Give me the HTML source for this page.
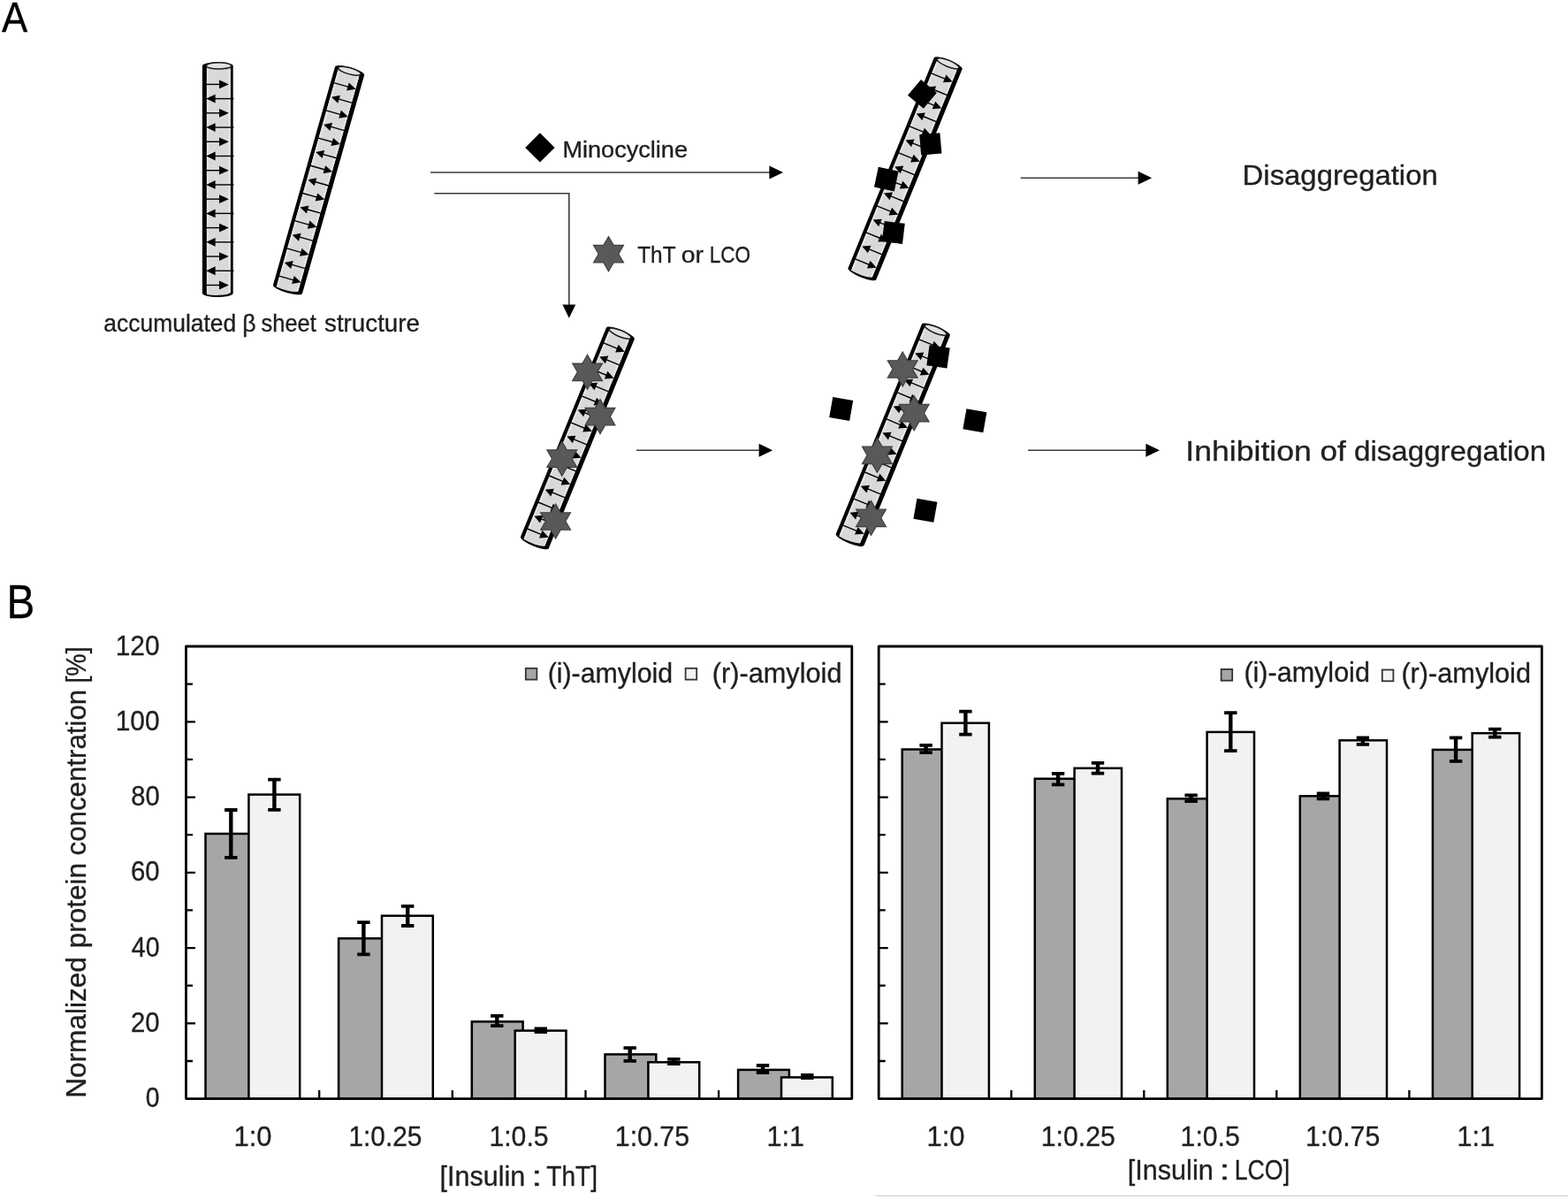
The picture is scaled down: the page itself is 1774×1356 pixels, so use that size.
<!DOCTYPE html>
<html lang="en">
<head>
<meta charset="utf-8">
<title>Figure</title>
<style>
html,body{margin:0;padding:0;background:#fff;}
body{width:1774px;height:1356px;overflow:hidden;}
svg{display:block;}
text{font-family:"Liberation Sans", sans-serif;}
</style>
</head>
<body>
<svg width="1774" height="1356" viewBox="0 0 1774 1356" font-family='"Liberation Sans", sans-serif'>
<rect width="1774" height="1356" fill="#fff"/>
<text x="1.9" y="35.6" font-size="47.2" text-anchor="start" fill="#000" stroke="#000" stroke-width="0.35" textLength="29.2" lengthAdjust="spacingAndGlyphs">A</text>
<text x="7.6" y="699.0" font-size="53.3" text-anchor="start" fill="#000" stroke="#000" stroke-width="0.35" textLength="31.8" lengthAdjust="spacingAndGlyphs">B</text>
<g transform="translate(246.3 74.4) rotate(0.00)">
<path d="M-17.4 0 A17.4 4.2 0 0 1 17.4 0 L17.4 257.4 A17.4 4.2 0 0 1 -17.4 257.4 Z" fill="#000"/>
<path d="M-12.399999999999999 0 L14.399999999999999 0 L14.399999999999999 256.9 A17.4 4.2 0 0 1 -12.399999999999999 258.59999999999997 Z" fill="#d9d9d9"/>
<rect x="-12.399999999999999" y="4" width="2" height="252.39999999999998" fill="#e6e6e6"/>
<rect x="12.399999999999999" y="4" width="2" height="252.39999999999998" fill="#e6e6e6"/>
<ellipse cx="1.3" cy="0" rx="14.2" ry="3.6" fill="#e2e2e2" stroke="#1a1a1a" stroke-width="1.5"/>
<path d="M-12.899999999999999 21.00 L2.6999999999999993 21.00" stroke="#000" stroke-width="1.4" fill="none"/>
<path d="M12.6 21.00 L1.6999999999999993 16.10 L1.6999999999999993 25.90 Z" fill="#000"/>
<path d="M-3.6999999999999997 37.22 L18.2 37.22" stroke="#000" stroke-width="1.4" fill="none"/>
<path d="M-13.0 37.22 L-2.6999999999999997 32.32 L-2.6999999999999997 42.12 Z" fill="#000"/>
<path d="M-12.899999999999999 53.44 L2.6999999999999993 53.44" stroke="#000" stroke-width="1.4" fill="none"/>
<path d="M12.6 53.44 L1.6999999999999993 48.54 L1.6999999999999993 58.34 Z" fill="#000"/>
<path d="M-3.6999999999999997 69.66 L18.2 69.66" stroke="#000" stroke-width="1.4" fill="none"/>
<path d="M-13.0 69.66 L-2.6999999999999997 64.76 L-2.6999999999999997 74.56 Z" fill="#000"/>
<path d="M-12.899999999999999 85.88 L2.6999999999999993 85.88" stroke="#000" stroke-width="1.4" fill="none"/>
<path d="M12.6 85.88 L1.6999999999999993 80.98 L1.6999999999999993 90.78 Z" fill="#000"/>
<path d="M-3.6999999999999997 102.10 L18.2 102.10" stroke="#000" stroke-width="1.4" fill="none"/>
<path d="M-13.0 102.10 L-2.6999999999999997 97.20 L-2.6999999999999997 107.00 Z" fill="#000"/>
<path d="M-12.899999999999999 118.32 L2.6999999999999993 118.32" stroke="#000" stroke-width="1.4" fill="none"/>
<path d="M12.6 118.32 L1.6999999999999993 113.42 L1.6999999999999993 123.22 Z" fill="#000"/>
<path d="M-3.6999999999999997 134.54 L18.2 134.54" stroke="#000" stroke-width="1.4" fill="none"/>
<path d="M-13.0 134.54 L-2.6999999999999997 129.64 L-2.6999999999999997 139.44 Z" fill="#000"/>
<path d="M-12.899999999999999 150.76 L2.6999999999999993 150.76" stroke="#000" stroke-width="1.4" fill="none"/>
<path d="M12.6 150.76 L1.6999999999999993 145.86 L1.6999999999999993 155.66 Z" fill="#000"/>
<path d="M-3.6999999999999997 166.98 L18.2 166.98" stroke="#000" stroke-width="1.4" fill="none"/>
<path d="M-13.0 166.98 L-2.6999999999999997 162.08 L-2.6999999999999997 171.88 Z" fill="#000"/>
<path d="M-12.899999999999999 183.20 L2.6999999999999993 183.20" stroke="#000" stroke-width="1.4" fill="none"/>
<path d="M12.6 183.20 L1.6999999999999993 178.30 L1.6999999999999993 188.10 Z" fill="#000"/>
<path d="M-3.6999999999999997 199.42 L18.2 199.42" stroke="#000" stroke-width="1.4" fill="none"/>
<path d="M-13.0 199.42 L-2.6999999999999997 194.52 L-2.6999999999999997 204.32 Z" fill="#000"/>
<path d="M-12.899999999999999 215.64 L2.6999999999999993 215.64" stroke="#000" stroke-width="1.4" fill="none"/>
<path d="M12.6 215.64 L1.6999999999999993 210.74 L1.6999999999999993 220.54 Z" fill="#000"/>
<path d="M-3.6999999999999997 231.86 L18.2 231.86" stroke="#000" stroke-width="1.4" fill="none"/>
<path d="M-13.0 231.86 L-2.6999999999999997 226.96 L-2.6999999999999997 236.76 Z" fill="#000"/>
<path d="M-12.899999999999999 248.08 L2.6999999999999993 248.08" stroke="#000" stroke-width="1.4" fill="none"/>
<path d="M12.6 248.08 L1.6999999999999993 243.18 L1.6999999999999993 252.98 Z" fill="#000"/>
</g>
<g transform="translate(395.6 80.2) rotate(15.85)">
<path d="M-17.2 0 A17.2 4.2 0 0 1 17.2 0 L17.2 256.5 A17.2 4.2 0 0 1 -17.2 256.5 Z" fill="#000"/>
<path d="M-13.0 0 L12.0 0 L12.0 256.0 A17.2 4.2 0 0 1 -13.0 257.7 Z" fill="#d9d9d9"/>
<rect x="-13.0" y="4" width="2" height="251.5" fill="#e6e6e6"/>
<rect x="10.0" y="4" width="2" height="251.5" fill="#e6e6e6"/>
<ellipse cx="-0.2" cy="0" rx="13.3" ry="3.6" fill="#e2e2e2" stroke="#1a1a1a" stroke-width="1.5"/>
<path d="M-13.5 17.80 L3.799999999999999 17.80" stroke="#000" stroke-width="1.4" fill="none"/>
<path d="M12.399999999999999 17.80 L2.799999999999999 13.10 L2.799999999999999 22.50 Z" fill="#000"/>
<path d="M-3.800000000000001 34.02 L17.2 34.02" stroke="#000" stroke-width="1.4" fill="none"/>
<path d="M-11.8 34.02 L-2.800000000000001 29.32 L-2.800000000000001 38.72 Z" fill="#000"/>
<path d="M-13.5 50.24 L3.799999999999999 50.24" stroke="#000" stroke-width="1.4" fill="none"/>
<path d="M12.399999999999999 50.24 L2.799999999999999 45.54 L2.799999999999999 54.94 Z" fill="#000"/>
<path d="M-3.800000000000001 66.46 L17.2 66.46" stroke="#000" stroke-width="1.4" fill="none"/>
<path d="M-11.8 66.46 L-2.800000000000001 61.76 L-2.800000000000001 71.16 Z" fill="#000"/>
<path d="M-13.5 82.68 L3.799999999999999 82.68" stroke="#000" stroke-width="1.4" fill="none"/>
<path d="M12.399999999999999 82.68 L2.799999999999999 77.98 L2.799999999999999 87.38 Z" fill="#000"/>
<path d="M-3.800000000000001 98.90 L17.2 98.90" stroke="#000" stroke-width="1.4" fill="none"/>
<path d="M-11.8 98.90 L-2.800000000000001 94.20 L-2.800000000000001 103.60 Z" fill="#000"/>
<path d="M-13.5 115.12 L3.799999999999999 115.12" stroke="#000" stroke-width="1.4" fill="none"/>
<path d="M12.399999999999999 115.12 L2.799999999999999 110.42 L2.799999999999999 119.82 Z" fill="#000"/>
<path d="M-3.800000000000001 131.34 L17.2 131.34" stroke="#000" stroke-width="1.4" fill="none"/>
<path d="M-11.8 131.34 L-2.800000000000001 126.64 L-2.800000000000001 136.04 Z" fill="#000"/>
<path d="M-13.5 147.56 L3.799999999999999 147.56" stroke="#000" stroke-width="1.4" fill="none"/>
<path d="M12.399999999999999 147.56 L2.799999999999999 142.86 L2.799999999999999 152.26 Z" fill="#000"/>
<path d="M-3.800000000000001 163.78 L17.2 163.78" stroke="#000" stroke-width="1.4" fill="none"/>
<path d="M-11.8 163.78 L-2.800000000000001 159.08 L-2.800000000000001 168.48 Z" fill="#000"/>
<path d="M-13.5 180.00 L3.799999999999999 180.00" stroke="#000" stroke-width="1.4" fill="none"/>
<path d="M12.399999999999999 180.00 L2.799999999999999 175.30 L2.799999999999999 184.70 Z" fill="#000"/>
<path d="M-3.800000000000001 196.22 L17.2 196.22" stroke="#000" stroke-width="1.4" fill="none"/>
<path d="M-11.8 196.22 L-2.800000000000001 191.52 L-2.800000000000001 200.92 Z" fill="#000"/>
<path d="M-13.5 212.44 L3.799999999999999 212.44" stroke="#000" stroke-width="1.4" fill="none"/>
<path d="M12.399999999999999 212.44 L2.799999999999999 207.74 L2.799999999999999 217.14 Z" fill="#000"/>
<path d="M-3.800000000000001 228.66 L17.2 228.66" stroke="#000" stroke-width="1.4" fill="none"/>
<path d="M-11.8 228.66 L-2.800000000000001 223.96 L-2.800000000000001 233.36 Z" fill="#000"/>
<path d="M-13.5 244.88 L3.799999999999999 244.88" stroke="#000" stroke-width="1.4" fill="none"/>
<path d="M12.399999999999999 244.88 L2.799999999999999 240.18 L2.799999999999999 249.58 Z" fill="#000"/>
</g>
<g transform="translate(1072.7 71.8) rotate(22.25)">
<path d="M-17.2 0 A17.2 4.2 0 0 1 17.2 0 L17.2 257 A17.2 4.2 0 0 1 -17.2 257 Z" fill="#000"/>
<path d="M-13.0 0 L12.0 0 L12.0 256.5 A17.2 4.2 0 0 1 -13.0 258.2 Z" fill="#d9d9d9"/>
<rect x="-13.0" y="4" width="2" height="252" fill="#e6e6e6"/>
<rect x="10.0" y="4" width="2" height="252" fill="#e6e6e6"/>
<ellipse cx="-0.2" cy="0" rx="13.3" ry="3.6" fill="#e2e2e2" stroke="#1a1a1a" stroke-width="1.5"/>
<path d="M-13.5 17.40 L3.799999999999999 17.40" stroke="#000" stroke-width="1.4" fill="none"/>
<path d="M12.399999999999999 17.40 L2.799999999999999 12.70 L2.799999999999999 22.10 Z" fill="#000"/>
<path d="M-3.800000000000001 33.62 L17.2 33.62" stroke="#000" stroke-width="1.4" fill="none"/>
<path d="M-11.8 33.62 L-2.800000000000001 28.92 L-2.800000000000001 38.32 Z" fill="#000"/>
<path d="M-13.5 49.84 L3.799999999999999 49.84" stroke="#000" stroke-width="1.4" fill="none"/>
<path d="M12.399999999999999 49.84 L2.799999999999999 45.14 L2.799999999999999 54.54 Z" fill="#000"/>
<path d="M-3.800000000000001 66.06 L17.2 66.06" stroke="#000" stroke-width="1.4" fill="none"/>
<path d="M-11.8 66.06 L-2.800000000000001 61.36 L-2.800000000000001 70.76 Z" fill="#000"/>
<path d="M-13.5 82.28 L3.799999999999999 82.28" stroke="#000" stroke-width="1.4" fill="none"/>
<path d="M12.399999999999999 82.28 L2.799999999999999 77.58 L2.799999999999999 86.98 Z" fill="#000"/>
<path d="M-3.800000000000001 98.50 L17.2 98.50" stroke="#000" stroke-width="1.4" fill="none"/>
<path d="M-11.8 98.50 L-2.800000000000001 93.80 L-2.800000000000001 103.20 Z" fill="#000"/>
<path d="M-13.5 114.72 L3.799999999999999 114.72" stroke="#000" stroke-width="1.4" fill="none"/>
<path d="M12.399999999999999 114.72 L2.799999999999999 110.02 L2.799999999999999 119.42 Z" fill="#000"/>
<path d="M-3.800000000000001 130.94 L17.2 130.94" stroke="#000" stroke-width="1.4" fill="none"/>
<path d="M-11.8 130.94 L-2.800000000000001 126.24 L-2.800000000000001 135.64 Z" fill="#000"/>
<path d="M-13.5 147.16 L3.799999999999999 147.16" stroke="#000" stroke-width="1.4" fill="none"/>
<path d="M12.399999999999999 147.16 L2.799999999999999 142.46 L2.799999999999999 151.86 Z" fill="#000"/>
<path d="M-3.800000000000001 163.38 L17.2 163.38" stroke="#000" stroke-width="1.4" fill="none"/>
<path d="M-11.8 163.38 L-2.800000000000001 158.68 L-2.800000000000001 168.08 Z" fill="#000"/>
<path d="M-13.5 179.60 L3.799999999999999 179.60" stroke="#000" stroke-width="1.4" fill="none"/>
<path d="M12.399999999999999 179.60 L2.799999999999999 174.90 L2.799999999999999 184.30 Z" fill="#000"/>
<path d="M-3.800000000000001 195.82 L17.2 195.82" stroke="#000" stroke-width="1.4" fill="none"/>
<path d="M-11.8 195.82 L-2.800000000000001 191.12 L-2.800000000000001 200.52 Z" fill="#000"/>
<path d="M-13.5 212.04 L3.799999999999999 212.04" stroke="#000" stroke-width="1.4" fill="none"/>
<path d="M12.399999999999999 212.04 L2.799999999999999 207.34 L2.799999999999999 216.74 Z" fill="#000"/>
<path d="M-3.800000000000001 228.26 L17.2 228.26" stroke="#000" stroke-width="1.4" fill="none"/>
<path d="M-11.8 228.26 L-2.800000000000001 223.56 L-2.800000000000001 232.96 Z" fill="#000"/>
<path d="M-13.5 244.48 L3.799999999999999 244.48" stroke="#000" stroke-width="1.4" fill="none"/>
<path d="M12.399999999999999 244.48 L2.799999999999999 239.78 L2.799999999999999 249.18 Z" fill="#000"/>
</g>
<g transform="translate(701.8 377.2) rotate(22.29)">
<path d="M-17.2 0 A17.2 4.2 0 0 1 17.2 0 L17.2 255.5 A17.2 4.2 0 0 1 -17.2 255.5 Z" fill="#000"/>
<path d="M-13.0 0 L12.0 0 L12.0 255.0 A17.2 4.2 0 0 1 -13.0 256.7 Z" fill="#d9d9d9"/>
<rect x="-13.0" y="4" width="2" height="250.5" fill="#e6e6e6"/>
<rect x="10.0" y="4" width="2" height="250.5" fill="#e6e6e6"/>
<ellipse cx="-0.2" cy="0" rx="13.3" ry="3.6" fill="#e2e2e2" stroke="#1a1a1a" stroke-width="1.5"/>
<path d="M-13.5 17.10 L3.799999999999999 17.10" stroke="#000" stroke-width="1.4" fill="none"/>
<path d="M12.399999999999999 17.10 L2.799999999999999 12.40 L2.799999999999999 21.80 Z" fill="#000"/>
<path d="M-3.800000000000001 33.32 L17.2 33.32" stroke="#000" stroke-width="1.4" fill="none"/>
<path d="M-11.8 33.32 L-2.800000000000001 28.62 L-2.800000000000001 38.02 Z" fill="#000"/>
<path d="M-13.5 49.54 L3.799999999999999 49.54" stroke="#000" stroke-width="1.4" fill="none"/>
<path d="M12.399999999999999 49.54 L2.799999999999999 44.84 L2.799999999999999 54.24 Z" fill="#000"/>
<path d="M-3.800000000000001 65.76 L17.2 65.76" stroke="#000" stroke-width="1.4" fill="none"/>
<path d="M-11.8 65.76 L-2.800000000000001 61.06 L-2.800000000000001 70.46 Z" fill="#000"/>
<path d="M-13.5 81.98 L3.799999999999999 81.98" stroke="#000" stroke-width="1.4" fill="none"/>
<path d="M12.399999999999999 81.98 L2.799999999999999 77.28 L2.799999999999999 86.68 Z" fill="#000"/>
<path d="M-3.800000000000001 98.20 L17.2 98.20" stroke="#000" stroke-width="1.4" fill="none"/>
<path d="M-11.8 98.20 L-2.800000000000001 93.50 L-2.800000000000001 102.90 Z" fill="#000"/>
<path d="M-13.5 114.42 L3.799999999999999 114.42" stroke="#000" stroke-width="1.4" fill="none"/>
<path d="M12.399999999999999 114.42 L2.799999999999999 109.72 L2.799999999999999 119.12 Z" fill="#000"/>
<path d="M-3.800000000000001 130.64 L17.2 130.64" stroke="#000" stroke-width="1.4" fill="none"/>
<path d="M-11.8 130.64 L-2.800000000000001 125.94 L-2.800000000000001 135.34 Z" fill="#000"/>
<path d="M-13.5 146.86 L3.799999999999999 146.86" stroke="#000" stroke-width="1.4" fill="none"/>
<path d="M12.399999999999999 146.86 L2.799999999999999 142.16 L2.799999999999999 151.56 Z" fill="#000"/>
<path d="M-3.800000000000001 163.08 L17.2 163.08" stroke="#000" stroke-width="1.4" fill="none"/>
<path d="M-11.8 163.08 L-2.800000000000001 158.38 L-2.800000000000001 167.78 Z" fill="#000"/>
<path d="M-13.5 179.30 L3.799999999999999 179.30" stroke="#000" stroke-width="1.4" fill="none"/>
<path d="M12.399999999999999 179.30 L2.799999999999999 174.60 L2.799999999999999 184.00 Z" fill="#000"/>
<path d="M-3.800000000000001 195.52 L17.2 195.52" stroke="#000" stroke-width="1.4" fill="none"/>
<path d="M-11.8 195.52 L-2.800000000000001 190.82 L-2.800000000000001 200.22 Z" fill="#000"/>
<path d="M-13.5 211.74 L3.799999999999999 211.74" stroke="#000" stroke-width="1.4" fill="none"/>
<path d="M12.399999999999999 211.74 L2.799999999999999 207.04 L2.799999999999999 216.44 Z" fill="#000"/>
<path d="M-3.800000000000001 227.96 L17.2 227.96" stroke="#000" stroke-width="1.4" fill="none"/>
<path d="M-11.8 227.96 L-2.800000000000001 223.26 L-2.800000000000001 232.66 Z" fill="#000"/>
<path d="M-13.5 244.18 L3.799999999999999 244.18" stroke="#000" stroke-width="1.4" fill="none"/>
<path d="M12.399999999999999 244.18 L2.799999999999999 239.48 L2.799999999999999 248.88 Z" fill="#000"/>
</g>
<g transform="translate(1058.8 373.2) rotate(22.27)">
<path d="M-17.2 0 A17.2 4.2 0 0 1 17.2 0 L17.2 256.2 A17.2 4.2 0 0 1 -17.2 256.2 Z" fill="#000"/>
<path d="M-13.0 0 L12.0 0 L12.0 255.7 A17.2 4.2 0 0 1 -13.0 257.4 Z" fill="#d9d9d9"/>
<rect x="-13.0" y="4" width="2" height="251.2" fill="#e6e6e6"/>
<rect x="10.0" y="4" width="2" height="251.2" fill="#e6e6e6"/>
<ellipse cx="-0.2" cy="0" rx="13.3" ry="3.6" fill="#e2e2e2" stroke="#1a1a1a" stroke-width="1.5"/>
<path d="M-13.5 17.10 L3.799999999999999 17.10" stroke="#000" stroke-width="1.4" fill="none"/>
<path d="M12.399999999999999 17.10 L2.799999999999999 12.40 L2.799999999999999 21.80 Z" fill="#000"/>
<path d="M-3.800000000000001 33.32 L17.2 33.32" stroke="#000" stroke-width="1.4" fill="none"/>
<path d="M-11.8 33.32 L-2.800000000000001 28.62 L-2.800000000000001 38.02 Z" fill="#000"/>
<path d="M-13.5 49.54 L3.799999999999999 49.54" stroke="#000" stroke-width="1.4" fill="none"/>
<path d="M12.399999999999999 49.54 L2.799999999999999 44.84 L2.799999999999999 54.24 Z" fill="#000"/>
<path d="M-3.800000000000001 65.76 L17.2 65.76" stroke="#000" stroke-width="1.4" fill="none"/>
<path d="M-11.8 65.76 L-2.800000000000001 61.06 L-2.800000000000001 70.46 Z" fill="#000"/>
<path d="M-13.5 81.98 L3.799999999999999 81.98" stroke="#000" stroke-width="1.4" fill="none"/>
<path d="M12.399999999999999 81.98 L2.799999999999999 77.28 L2.799999999999999 86.68 Z" fill="#000"/>
<path d="M-3.800000000000001 98.20 L17.2 98.20" stroke="#000" stroke-width="1.4" fill="none"/>
<path d="M-11.8 98.20 L-2.800000000000001 93.50 L-2.800000000000001 102.90 Z" fill="#000"/>
<path d="M-13.5 114.42 L3.799999999999999 114.42" stroke="#000" stroke-width="1.4" fill="none"/>
<path d="M12.399999999999999 114.42 L2.799999999999999 109.72 L2.799999999999999 119.12 Z" fill="#000"/>
<path d="M-3.800000000000001 130.64 L17.2 130.64" stroke="#000" stroke-width="1.4" fill="none"/>
<path d="M-11.8 130.64 L-2.800000000000001 125.94 L-2.800000000000001 135.34 Z" fill="#000"/>
<path d="M-13.5 146.86 L3.799999999999999 146.86" stroke="#000" stroke-width="1.4" fill="none"/>
<path d="M12.399999999999999 146.86 L2.799999999999999 142.16 L2.799999999999999 151.56 Z" fill="#000"/>
<path d="M-3.800000000000001 163.08 L17.2 163.08" stroke="#000" stroke-width="1.4" fill="none"/>
<path d="M-11.8 163.08 L-2.800000000000001 158.38 L-2.800000000000001 167.78 Z" fill="#000"/>
<path d="M-13.5 179.30 L3.799999999999999 179.30" stroke="#000" stroke-width="1.4" fill="none"/>
<path d="M12.399999999999999 179.30 L2.799999999999999 174.60 L2.799999999999999 184.00 Z" fill="#000"/>
<path d="M-3.800000000000001 195.52 L17.2 195.52" stroke="#000" stroke-width="1.4" fill="none"/>
<path d="M-11.8 195.52 L-2.800000000000001 190.82 L-2.800000000000001 200.22 Z" fill="#000"/>
<path d="M-13.5 211.74 L3.799999999999999 211.74" stroke="#000" stroke-width="1.4" fill="none"/>
<path d="M12.399999999999999 211.74 L2.799999999999999 207.04 L2.799999999999999 216.44 Z" fill="#000"/>
<path d="M-3.800000000000001 227.96 L17.2 227.96" stroke="#000" stroke-width="1.4" fill="none"/>
<path d="M-11.8 227.96 L-2.800000000000001 223.26 L-2.800000000000001 232.66 Z" fill="#000"/>
<path d="M-13.5 244.18 L3.799999999999999 244.18" stroke="#000" stroke-width="1.4" fill="none"/>
<path d="M12.399999999999999 244.18 L2.799999999999999 239.48 L2.799999999999999 248.88 Z" fill="#000"/>
</g>
<rect x="-11.65" y="-11.65" width="23.3" height="23.3" fill="#000" transform="translate(1043.4 106.4) rotate(40)"/>
<rect x="-11.65" y="-11.65" width="23.3" height="23.3" fill="#000" transform="translate(1052.8 162.8) rotate(-5)"/>
<rect x="-11.65" y="-11.65" width="23.3" height="23.3" fill="#000" transform="translate(1002.8 202.6) rotate(12)"/>
<rect x="-11.65" y="-11.65" width="23.3" height="23.3" fill="#000" transform="translate(1010.8 263.0) rotate(7)"/>
<polygon points="664.60,401.30 670.23,411.05 681.49,411.05 675.86,420.80 681.49,430.55 670.23,430.55 664.60,440.30 658.97,430.55 647.71,430.55 653.34,420.80 647.71,411.05 658.97,411.05" fill="#595959" stroke="#3f3f3f" stroke-width="1.2" stroke-linejoin="miter"/>
<polygon points="679.00,451.60 684.63,461.35 695.89,461.35 690.26,471.10 695.89,480.85 684.63,480.85 679.00,490.60 673.37,480.85 662.11,480.85 667.74,471.10 662.11,461.35 673.37,461.35" fill="#595959" stroke="#3f3f3f" stroke-width="1.2" stroke-linejoin="miter"/>
<polygon points="635.80,499.20 641.43,508.95 652.69,508.95 647.06,518.70 652.69,528.45 641.43,528.45 635.80,538.20 630.17,528.45 618.91,528.45 624.54,518.70 618.91,508.95 630.17,508.95" fill="#595959" stroke="#3f3f3f" stroke-width="1.2" stroke-linejoin="miter"/>
<polygon points="628.60,570.00 634.23,579.75 645.49,579.75 639.86,589.50 645.49,599.25 634.23,599.25 628.60,609.00 622.97,599.25 611.71,599.25 617.34,589.50 611.71,579.75 622.97,579.75" fill="#595959" stroke="#3f3f3f" stroke-width="1.2" stroke-linejoin="miter"/>
<polygon points="1021.20,398.00 1026.83,407.75 1038.09,407.75 1032.46,417.50 1038.09,427.25 1026.83,427.25 1021.20,437.00 1015.57,427.25 1004.31,427.25 1009.94,417.50 1004.31,407.75 1015.57,407.75" fill="#595959" stroke="#3f3f3f" stroke-width="1.2" stroke-linejoin="miter"/>
<polygon points="1034.20,447.70 1039.83,457.45 1051.09,457.45 1045.46,467.20 1051.09,476.95 1039.83,476.95 1034.20,486.70 1028.57,476.95 1017.31,476.95 1022.94,467.20 1017.31,457.45 1028.57,457.45" fill="#595959" stroke="#3f3f3f" stroke-width="1.2" stroke-linejoin="miter"/>
<polygon points="992.40,495.40 998.03,505.15 1009.29,505.15 1003.66,514.90 1009.29,524.65 998.03,524.65 992.40,534.40 986.77,524.65 975.51,524.65 981.14,514.90 975.51,505.15 986.77,505.15" fill="#595959" stroke="#3f3f3f" stroke-width="1.2" stroke-linejoin="miter"/>
<polygon points="985.50,566.40 991.13,576.15 1002.39,576.15 996.76,585.90 1002.39,595.65 991.13,595.65 985.50,605.40 979.87,595.65 968.61,595.65 974.24,585.90 968.61,576.15 979.87,576.15" fill="#595959" stroke="#3f3f3f" stroke-width="1.2" stroke-linejoin="miter"/>
<rect x="-11.65" y="-11.65" width="23.3" height="23.3" fill="#000" transform="translate(1061.5 403.3) rotate(8)"/>
<rect x="-11.65" y="-11.65" width="23.3" height="23.3" fill="#000" transform="translate(951.7 462.5) rotate(10)"/>
<rect x="-11.65" y="-11.65" width="23.3" height="23.3" fill="#000" transform="translate(1102.9 475.8) rotate(10)"/>
<rect x="-11.65" y="-11.65" width="23.3" height="23.3" fill="#000" transform="translate(1046.9 577.3) rotate(10)"/>
<polygon points="610.9,150.2 627.6,166.9 610.9,183.6 594.2,166.9" fill="#000"/>
<polygon points="688.50,267.60 694.16,277.40 705.47,277.40 699.82,287.20 705.47,297.00 694.16,297.00 688.50,306.80 682.84,297.00 671.53,297.00 677.18,287.20 671.53,277.40 682.84,277.40" fill="#595959" stroke="#3f3f3f" stroke-width="1.2" stroke-linejoin="miter"/>
<path d="M487 195 L871.4 195" stroke="#3a3a3a" stroke-width="1.6" fill="none"/>
<path d="M886.0 195 L870.4 187.5 L870.4 202.5 Z" fill="#000"/>
<path d="M491.3 218.7 L643.8 218.7 L643.8 345" stroke="#3a3a3a" stroke-width="1.6" fill="none"/>
<path d="M643.8 359.8 L636.4 344.6 L651.2 344.6 Z" fill="#000"/>
<path d="M1154.7 201.3 L1288.6000000000001 201.3" stroke="#3a3a3a" stroke-width="1.6" fill="none"/>
<path d="M1303.2 201.3 L1287.6000000000001 193.8 L1287.6000000000001 208.8 Z" fill="#000"/>
<path d="M720 509.2 L859.6 509.2" stroke="#3a3a3a" stroke-width="1.6" fill="none"/>
<path d="M874.2 509.2 L858.6 501.7 L858.6 516.7 Z" fill="#000"/>
<path d="M1163 509.2 L1297.4 509.2" stroke="#3a3a3a" stroke-width="1.6" fill="none"/>
<path d="M1312.0 509.2 L1296.4 501.7 L1296.4 516.7 Z" fill="#000"/>
<text x="636.4" y="177.9" font-size="26.4" text-anchor="start" fill="#1f1f1f" stroke="#1f1f1f" stroke-width="0.35" textLength="141.6" lengthAdjust="spacingAndGlyphs">Minocycline</text>
<text y="296.9" font-size="26.4" fill="#1f1f1f" stroke="#1f1f1f" stroke-width="0.35"><tspan x="721.2" textLength="42.9" lengthAdjust="spacingAndGlyphs">ThT</tspan> <tspan x="770.7" textLength="25.3" lengthAdjust="spacingAndGlyphs">or</tspan> <tspan x="802.8" textLength="46.3" lengthAdjust="spacingAndGlyphs">LCO</tspan></text>
<text y="374.5" font-size="28.0" fill="#1f1f1f" stroke="#1f1f1f" stroke-width="0.35"><tspan x="117.3" textLength="150.0" lengthAdjust="spacingAndGlyphs">accumulated</tspan> <tspan x="274.3" textLength="15.3" lengthAdjust="spacingAndGlyphs">β</tspan> <tspan x="295.6" textLength="62.2" lengthAdjust="spacingAndGlyphs">sheet</tspan> <tspan x="367.0" textLength="108.0" lengthAdjust="spacingAndGlyphs">structure</tspan></text>
<text x="1405.6" y="209.0" font-size="31.5" text-anchor="start" fill="#1f1f1f" stroke="#1f1f1f" stroke-width="0.35" textLength="221.1" lengthAdjust="spacingAndGlyphs">Disaggregation</text>
<text y="521.2" font-size="31.5" fill="#1f1f1f" stroke="#1f1f1f" stroke-width="0.35"><tspan x="1341.3" textLength="142.5" lengthAdjust="spacingAndGlyphs">Inhibition</tspan> <tspan x="1493.4" textLength="29.3" lengthAdjust="spacingAndGlyphs">of</tspan> <tspan x="1532.0" textLength="217.2" lengthAdjust="spacingAndGlyphs">disaggregation</tspan></text>
<rect x="232.5" y="942.9" width="57.8" height="299.7" fill="#a6a6a6" stroke="#000" stroke-width="2.5"/>
<rect x="281.4" y="898.6" width="57.8" height="344.0" fill="#f2f2f2" stroke="#000" stroke-width="2.5"/>
<rect x="383.1" y="1061.3" width="57.8" height="181.3" fill="#a6a6a6" stroke="#000" stroke-width="2.5"/>
<rect x="432.0" y="1035.7" width="57.8" height="206.9" fill="#f2f2f2" stroke="#000" stroke-width="2.5"/>
<rect x="533.8" y="1155.4" width="57.8" height="87.2" fill="#a6a6a6" stroke="#000" stroke-width="2.5"/>
<rect x="582.7" y="1165.6" width="57.8" height="77.0" fill="#f2f2f2" stroke="#000" stroke-width="2.5"/>
<rect x="684.5" y="1192.4" width="57.8" height="50.2" fill="#a6a6a6" stroke="#000" stroke-width="2.5"/>
<rect x="733.4" y="1201.3" width="57.8" height="41.3" fill="#f2f2f2" stroke="#000" stroke-width="2.5"/>
<rect x="835.1" y="1209.9" width="57.8" height="32.7" fill="#a6a6a6" stroke="#000" stroke-width="2.5"/>
<rect x="884.0" y="1218.4" width="57.8" height="24.2" fill="#f2f2f2" stroke="#000" stroke-width="2.5"/>
<path d="M261.3 915.1 L261.3 970.8" stroke="#000" stroke-width="4.4" fill="none"/>
<path d="M254.1 916.0 L268.5 916.0 M254.1 969.9 L268.5 969.9" stroke="#000" stroke-width="3.8" fill="none"/>
<path d="M310.4 880.8 L310.4 916.7" stroke="#000" stroke-width="4.4" fill="none"/>
<path d="M303.2 881.7 L317.6 881.7 M303.2 915.8 L317.6 915.8" stroke="#000" stroke-width="3.8" fill="none"/>
<path d="M411.4 1042.3 L411.4 1080.3" stroke="#000" stroke-width="4.4" fill="none"/>
<path d="M404.2 1043.2 L418.6 1043.2 M404.2 1079.4 L418.6 1079.4" stroke="#000" stroke-width="3.8" fill="none"/>
<path d="M461.2 1023.9 L461.2 1047.9" stroke="#000" stroke-width="4.4" fill="none"/>
<path d="M454.0 1024.8 L468.4 1024.8 M454.0 1047.0 L468.4 1047.0" stroke="#000" stroke-width="3.8" fill="none"/>
<path d="M562.3 1147.9 L562.3 1161.0" stroke="#000" stroke-width="4.4" fill="none"/>
<path d="M555.1 1148.8 L569.5 1148.8 M555.1 1160.1 L569.5 1160.1" stroke="#000" stroke-width="3.8" fill="none"/>
<path d="M611.8 1162.5 L611.8 1168.1" stroke="#000" stroke-width="4.4" fill="none"/>
<path d="M604.6 1163.4 L619.0 1163.4 M604.6 1167.2 L619.0 1167.2" stroke="#000" stroke-width="3.8" fill="none"/>
<path d="M712.7 1184.2 L712.7 1200.7" stroke="#000" stroke-width="4.4" fill="none"/>
<path d="M705.5 1185.1 L719.9 1185.1 M705.5 1199.8 L719.9 1199.8" stroke="#000" stroke-width="3.8" fill="none"/>
<path d="M762.3 1196.9 L762.3 1204.1" stroke="#000" stroke-width="4.4" fill="none"/>
<path d="M755.1 1197.8 L769.5 1197.8 M755.1 1203.2 L769.5 1203.2" stroke="#000" stroke-width="3.8" fill="none"/>
<path d="M863.0 1204.1 L863.0 1213.9" stroke="#000" stroke-width="4.4" fill="none"/>
<path d="M855.8 1205.0 L870.2 1205.0 M855.8 1213.0 L870.2 1213.0" stroke="#000" stroke-width="3.8" fill="none"/>
<path d="M913.3 1214.9 L913.3 1220.0" stroke="#000" stroke-width="4.4" fill="none"/>
<path d="M906.1 1215.8 L920.5 1215.8 M906.1 1219.1 L920.5 1219.1" stroke="#000" stroke-width="3.8" fill="none"/>
<rect x="210.5" y="731.0" width="753.3" height="511.6" fill="none" stroke="#000" stroke-width="2.8" stroke-linejoin="round"/>
<path d="M210.5 1200.0 h7.5 M210.5 1157.3 h10.5 M210.5 1114.7 h7.5 M210.5 1072.1 h10.5 M210.5 1029.4 h7.5 M210.5 986.8 h10.5 M210.5 944.2 h7.5 M210.5 901.6 h10.5 M210.5 858.9 h7.5 M210.5 816.3 h10.5 M210.5 773.7 h7.5 M361.2 1242.6 v-9.5 M511.8 1242.6 v-9.5 M662.5 1242.6 v-9.5 M813.1 1242.6 v-9.5" stroke="#000" stroke-width="2.3" fill="none"/>
<text x="264.4" y="1295.5" font-size="31.5" text-anchor="start" fill="#1f1f1f" stroke="#1f1f1f" stroke-width="0.35" textLength="43.1" lengthAdjust="spacingAndGlyphs">1:0</text>
<text x="394.4" y="1295.5" font-size="31.5" text-anchor="start" fill="#1f1f1f" stroke="#1f1f1f" stroke-width="0.35" textLength="83.1" lengthAdjust="spacingAndGlyphs">1:0.25</text>
<text x="553.4" y="1295.5" font-size="31.5" text-anchor="start" fill="#1f1f1f" stroke="#1f1f1f" stroke-width="0.35" textLength="67.2" lengthAdjust="spacingAndGlyphs">1:0.5</text>
<text x="695.8" y="1295.5" font-size="31.5" text-anchor="start" fill="#1f1f1f" stroke="#1f1f1f" stroke-width="0.35" textLength="84.2" lengthAdjust="spacingAndGlyphs">1:0.75</text>
<text x="867.4" y="1295.5" font-size="31.5" text-anchor="start" fill="#1f1f1f" stroke="#1f1f1f" stroke-width="0.35" textLength="42.5" lengthAdjust="spacingAndGlyphs">1:1</text>
<text y="1340.7" font-size="31.5" fill="#1f1f1f" stroke="#1f1f1f" stroke-width="0.35"><tspan x="497.6" textLength="96.6" lengthAdjust="spacingAndGlyphs">[Insulin</tspan> <tspan x="601.2" textLength="12.0" lengthAdjust="spacingAndGlyphs">:</tspan> <tspan x="618.3" textLength="57.8" lengthAdjust="spacingAndGlyphs">ThT]</tspan></text>
<text x="164.8" y="1252.2" font-size="31.5" text-anchor="start" fill="#1f1f1f" stroke="#1f1f1f" stroke-width="0.35" textLength="15.8" lengthAdjust="spacingAndGlyphs">0</text>
<text x="148.0" y="1166.9" font-size="31.5" text-anchor="start" fill="#1f1f1f" stroke="#1f1f1f" stroke-width="0.35" textLength="32.6" lengthAdjust="spacingAndGlyphs">20</text>
<text x="148.8" y="1081.7" font-size="31.5" text-anchor="start" fill="#1f1f1f" stroke="#1f1f1f" stroke-width="0.35" textLength="31.8" lengthAdjust="spacingAndGlyphs">40</text>
<text x="148.0" y="996.4" font-size="31.5" text-anchor="start" fill="#1f1f1f" stroke="#1f1f1f" stroke-width="0.35" textLength="32.6" lengthAdjust="spacingAndGlyphs">60</text>
<text x="148.2" y="911.2" font-size="31.5" text-anchor="start" fill="#1f1f1f" stroke="#1f1f1f" stroke-width="0.35" textLength="32.4" lengthAdjust="spacingAndGlyphs">80</text>
<text x="130.7" y="825.9" font-size="31.5" text-anchor="start" fill="#1f1f1f" stroke="#1f1f1f" stroke-width="0.35" textLength="49.9" lengthAdjust="spacingAndGlyphs">100</text>
<text x="130.7" y="740.6" font-size="31.5" text-anchor="start" fill="#1f1f1f" stroke="#1f1f1f" stroke-width="0.35" textLength="49.9" lengthAdjust="spacingAndGlyphs">120</text>
<rect x="594.8" y="755.8" width="12.6" height="12.8" fill="#a6a6a6" stroke="#333" stroke-width="1.8"/>
<text x="619.7" y="771.5" font-size="31.5" text-anchor="start" fill="#1f1f1f" stroke="#1f1f1f" stroke-width="0.35" textLength="141.5" lengthAdjust="spacingAndGlyphs">(i)-amyloid</text>
<rect x="775.6" y="755.8" width="12.6" height="12.8" fill="#f2f2f2" stroke="#333" stroke-width="1.8"/>
<text x="805.8" y="771.5" font-size="31.5" text-anchor="start" fill="#1f1f1f" stroke="#1f1f1f" stroke-width="0.35" textLength="146.7" lengthAdjust="spacingAndGlyphs">(r)-amyloid</text>
<rect x="1020.7" y="847.5" width="52.2" height="395.1" fill="#a6a6a6" stroke="#000" stroke-width="2.5"/>
<rect x="1065.5" y="817.7" width="53.4" height="424.9" fill="#f2f2f2" stroke="#000" stroke-width="2.5"/>
<rect x="1170.8" y="880.7" width="52.2" height="361.9" fill="#a6a6a6" stroke="#000" stroke-width="2.5"/>
<rect x="1215.6" y="868.8" width="53.4" height="373.8" fill="#f2f2f2" stroke="#000" stroke-width="2.5"/>
<rect x="1320.8" y="903.3" width="52.2" height="339.3" fill="#a6a6a6" stroke="#000" stroke-width="2.5"/>
<rect x="1365.6" y="827.9" width="53.4" height="414.7" fill="#f2f2f2" stroke="#000" stroke-width="2.5"/>
<rect x="1470.8" y="900.3" width="52.2" height="342.3" fill="#a6a6a6" stroke="#000" stroke-width="2.5"/>
<rect x="1515.6" y="837.3" width="53.4" height="405.3" fill="#f2f2f2" stroke="#000" stroke-width="2.5"/>
<rect x="1620.9" y="847.9" width="52.2" height="394.7" fill="#a6a6a6" stroke="#000" stroke-width="2.5"/>
<rect x="1665.7" y="829.2" width="53.4" height="413.4" fill="#f2f2f2" stroke="#000" stroke-width="2.5"/>
<path d="M1047.6 841.9 L1047.6 852.1" stroke="#000" stroke-width="4.4" fill="none"/>
<path d="M1040.4 842.8 L1054.8 842.8 M1040.4 851.2 L1054.8 851.2" stroke="#000" stroke-width="3.8" fill="none"/>
<path d="M1092.4 803.8 L1092.4 831.5" stroke="#000" stroke-width="4.4" fill="none"/>
<path d="M1085.2 804.7 L1099.6 804.7 M1085.2 830.6 L1099.6 830.6" stroke="#000" stroke-width="3.8" fill="none"/>
<path d="M1197.1 873.9 L1197.1 888.2" stroke="#000" stroke-width="4.4" fill="none"/>
<path d="M1189.9 874.8 L1204.3 874.8 M1189.9 887.3 L1204.3 887.3" stroke="#000" stroke-width="3.8" fill="none"/>
<path d="M1242.0 862.0 L1242.0 875.6" stroke="#000" stroke-width="4.4" fill="none"/>
<path d="M1234.8 862.9 L1249.2 862.9 M1234.8 874.7 L1249.2 874.7" stroke="#000" stroke-width="3.8" fill="none"/>
<path d="M1347.6 898.4 L1347.6 907.1" stroke="#000" stroke-width="4.4" fill="none"/>
<path d="M1340.4 899.3 L1354.8 899.3 M1340.4 906.2 L1354.8 906.2" stroke="#000" stroke-width="3.8" fill="none"/>
<path d="M1392.3 805.3 L1392.3 850.0" stroke="#000" stroke-width="4.4" fill="none"/>
<path d="M1385.1 806.2 L1399.5 806.2 M1385.1 849.1 L1399.5 849.1" stroke="#000" stroke-width="3.8" fill="none"/>
<path d="M1497.0 896.6 L1497.0 904.3" stroke="#000" stroke-width="4.4" fill="none"/>
<path d="M1489.8 897.5 L1504.2 897.5 M1489.8 903.4 L1504.2 903.4" stroke="#000" stroke-width="3.8" fill="none"/>
<path d="M1541.9 833.5 L1541.9 842.8" stroke="#000" stroke-width="4.4" fill="none"/>
<path d="M1534.7 834.4 L1549.1 834.4 M1534.7 841.9 L1549.1 841.9" stroke="#000" stroke-width="3.8" fill="none"/>
<path d="M1647.1 833.5 L1647.1 861.7" stroke="#000" stroke-width="4.4" fill="none"/>
<path d="M1639.9 834.4 L1654.3 834.4 M1639.9 860.8 L1654.3 860.8" stroke="#000" stroke-width="3.8" fill="none"/>
<path d="M1691.3 823.7 L1691.3 834.5" stroke="#000" stroke-width="4.4" fill="none"/>
<path d="M1684.1 824.6 L1698.5 824.6 M1684.1 833.6 L1698.5 833.6" stroke="#000" stroke-width="3.8" fill="none"/>
<rect x="994.2" y="731.0" width="750.2" height="511.6" fill="none" stroke="#000" stroke-width="2.8" stroke-linejoin="round"/>
<path d="M994.2 1200.0 h7.5 M994.2 1157.3 h10.5 M994.2 1114.7 h7.5 M994.2 1072.1 h10.5 M994.2 1029.4 h7.5 M994.2 986.8 h10.5 M994.2 944.2 h7.5 M994.2 901.6 h10.5 M994.2 858.9 h7.5 M994.2 816.3 h10.5 M994.2 773.7 h7.5 M1144.2 1242.6 v-9.5 M1294.3 1242.6 v-9.5 M1444.3 1242.6 v-9.5 M1594.4 1242.6 v-9.5" stroke="#000" stroke-width="2.3" fill="none"/>
<text x="1048.5" y="1295.5" font-size="31.5" text-anchor="start" fill="#1f1f1f" stroke="#1f1f1f" stroke-width="0.35" textLength="43.1" lengthAdjust="spacingAndGlyphs">1:0</text>
<text x="1177.7" y="1295.5" font-size="31.5" text-anchor="start" fill="#1f1f1f" stroke="#1f1f1f" stroke-width="0.35" textLength="84.1" lengthAdjust="spacingAndGlyphs">1:0.25</text>
<text x="1335.6" y="1295.5" font-size="31.5" text-anchor="start" fill="#1f1f1f" stroke="#1f1f1f" stroke-width="0.35" textLength="67.2" lengthAdjust="spacingAndGlyphs">1:0.5</text>
<text x="1477.1" y="1295.5" font-size="31.5" text-anchor="start" fill="#1f1f1f" stroke="#1f1f1f" stroke-width="0.35" textLength="84.2" lengthAdjust="spacingAndGlyphs">1:0.75</text>
<text x="1648.6" y="1295.5" font-size="31.5" text-anchor="start" fill="#1f1f1f" stroke="#1f1f1f" stroke-width="0.35" textLength="42.5" lengthAdjust="spacingAndGlyphs">1:1</text>
<text y="1333.7" font-size="31.5" fill="#1f1f1f" stroke="#1f1f1f" stroke-width="0.35"><tspan x="1275.8" textLength="96.9" lengthAdjust="spacingAndGlyphs">[Insulin</tspan> <tspan x="1379.5" textLength="12.0" lengthAdjust="spacingAndGlyphs">:</tspan> <tspan x="1396.7" textLength="62.4" lengthAdjust="spacingAndGlyphs">LCO]</tspan></text>
<rect x="1381.6" y="756.9" width="12.6" height="12.8" fill="#a6a6a6" stroke="#333" stroke-width="1.8"/>
<text x="1407.4" y="771.4" font-size="31.5" text-anchor="start" fill="#1f1f1f" stroke="#1f1f1f" stroke-width="0.35" textLength="142.5" lengthAdjust="spacingAndGlyphs">(i)-amyloid</text>
<rect x="1563.8" y="757.5" width="12.6" height="12.8" fill="#f2f2f2" stroke="#333" stroke-width="1.8"/>
<text x="1585.4" y="772.4" font-size="31.5" text-anchor="start" fill="#1f1f1f" stroke="#1f1f1f" stroke-width="0.35" textLength="146.6" lengthAdjust="spacingAndGlyphs">(r)-amyloid</text>
<g transform="translate(97.0 0) rotate(-90)">
<text y="0.0" font-size="31.5" fill="#1f1f1f" stroke="#1f1f1f" stroke-width="0.35"><tspan x="-1241.8" textLength="159.7" lengthAdjust="spacingAndGlyphs">Normalized</tspan> <tspan x="-1072.3" textLength="96.2" lengthAdjust="spacingAndGlyphs">protein</tspan> <tspan x="-967.4" textLength="187.6" lengthAdjust="spacingAndGlyphs">concentration</tspan> <tspan x="-772.6" textLength="41.3" lengthAdjust="spacingAndGlyphs">[%]</tspan></text>
</g>
<path d="M990.5 1352.4 L1774 1352.4" stroke="#d4d4d4" stroke-width="1.2" fill="none"/>
</svg>
</body>
</html>
